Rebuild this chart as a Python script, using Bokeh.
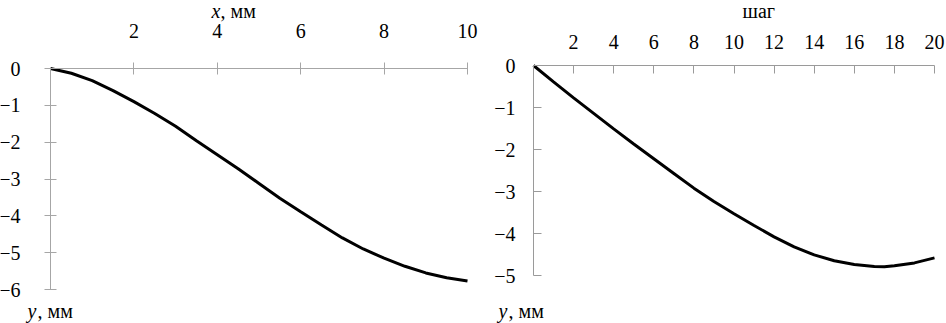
from bokeh.plotting import figure
from bokeh.layouts import row
from bokeh.models import Range1d, FixedTicker, Label
from bokeh.embed import file_html
from bokeh.resources import INLINE

FONT = "Liberation Serif"

# Left chart: deflection y (mm) vs x (mm)
left_x = [0, 0.5, 1, 1.5, 2, 2.5, 3, 3.5, 4, 4.5, 5, 5.5, 6, 6.5, 7, 7.5, 8, 8.5, 9, 9.5, 10]
left_y = [0, -0.13, -0.33, -0.60, -0.90, -1.22, -1.57, -1.96, -2.34, -2.72, -3.12,
          -3.52, -3.89, -4.25, -4.60, -4.90, -5.15, -5.37, -5.55, -5.68, -5.77]
left_xticks = [2, 4, 6, 8, 10]
left_yticks = [0, -1, -2, -3, -4, -5, -6]

# Right chart: y (mm) vs step
right_x = [0, 1, 2, 3, 4, 5, 6, 7, 8, 9, 10, 11, 12, 13, 14, 15, 16, 17, 17.5, 18, 19, 20]
right_y = [0, -0.39, -0.77, -1.14, -1.51, -1.87, -2.22, -2.57, -2.92, -3.24, -3.53,
           -3.81, -4.08, -4.32, -4.51, -4.65, -4.74, -4.785, -4.79, -4.77, -4.70, -4.58]
right_xticks = [2, 4, 6, 8, 10, 12, 14, 16, 18, 20]
right_yticks = [0, -1, -2, -3, -4, -5]

H = 323
W1, W2 = 483, 463


def minus(v):
    return str(v).replace("-", "\u2212")


def value_at(v0, p0, v1, p1, p):
    return v0 + (p - p0) * (v1 - v0) / (p1 - p0)


def make_range_x(v0, p0, v1, p1, size):
    return Range1d(value_at(v0, p0, v1, p1, 0), value_at(v0, p0, v1, p1, size))


def make_range_y(v0, p0, v1, p1, size):
    return Range1d(value_at(v0, p0, v1, p1, size), value_at(v0, p0, v1, p1, 0))


def style_axis(ax, ticks, bounds, color, t_in, t_out, standoff):
    ax.ticker = FixedTicker(ticks=ticks)
    ax.major_label_overrides = {t: minus(t) for t in ticks}
    ax.bounds = bounds
    ax.fixed_location = 0
    ax.axis_line_color = color
    ax.major_tick_line_color = color
    ax.minor_tick_line_color = None
    ax.major_tick_in = t_in
    ax.major_tick_out = t_out
    ax.major_label_standoff = standoff
    ax.major_label_text_font = FONT
    ax.major_label_text_font_size = "20px"
    ax.major_label_text_color = "black"


def add_label(p, x, y_top, text, italic=False):
    # x, y_top: pixel position (baseline) measured from the canvas top-left
    p.add_layout(Label(x=x, y=H - y_top, x_units="screen", y_units="screen", text=text,
                       text_font=FONT, text_font_size="20px",
                       text_font_style="italic" if italic else "normal",
                       text_baseline="alphabetic", text_align="left",
                       text_color="black"))


def base_figure(width, xr, yr):
    p = figure(width=width, height=H, x_range=xr, y_range=yr,
               x_axis_location="above", y_axis_location="left",
               output_backend="svg", toolbar_location=None,
               min_border=0, min_border_left=0, min_border_right=0,
               min_border_top=0, min_border_bottom=0)
    p.outline_line_color = None
    p.grid.visible = False
    p.background_fill_color = "white"
    p.border_fill_color = "white"
    return p


# ---- left figure (canvas pixels: x 0 -> 50, 10 -> 467; y 0 -> 68, -6 -> 289) ----
p1 = base_figure(W1, make_range_x(0, 50, 10, 467, W1), make_range_y(0, 68, -6, 289, H))
style_axis(p1.xaxis[0], left_xticks, (0, 10), "#a6a6a6", 6, 6, 25)
style_axis(p1.yaxis[0], left_yticks, (-6, 0), "#a6a6a6", 6, 6, 24)
p1.line(left_x, left_y, line_color="black", line_width=3)
add_label(p1, 211, 10, "x", italic=True)
add_label(p1, 220, 10, ", мм")
add_label(p1, 27, 310, "y", italic=True)
add_label(p1, 37, 310, ", мм")

# ---- right figure (canvas pixels: x 0 -> 50, 20 -> 451; y 0 -> 65, -5 -> 275) ----
p2 = base_figure(W2, make_range_x(0, 50, 20, 451, W2), make_range_y(0, 65, -5, 275, H))
style_axis(p2.xaxis[0], right_xticks, (0, 20), "#9a9a9a", 8, 0, 17)
style_axis(p2.yaxis[0], right_yticks, (-5, 0), "#9a9a9a", 8, 0, 18)
p2.line(right_x, right_y, line_color="black", line_width=3)
add_label(p2, 259, 10, "шаг")
add_label(p2, 15, 310, "y", italic=True)
add_label(p2, 25, 310, ", мм")

layout = row(p1, p2)
open("out.html", "w").write(file_html(layout, INLINE))
